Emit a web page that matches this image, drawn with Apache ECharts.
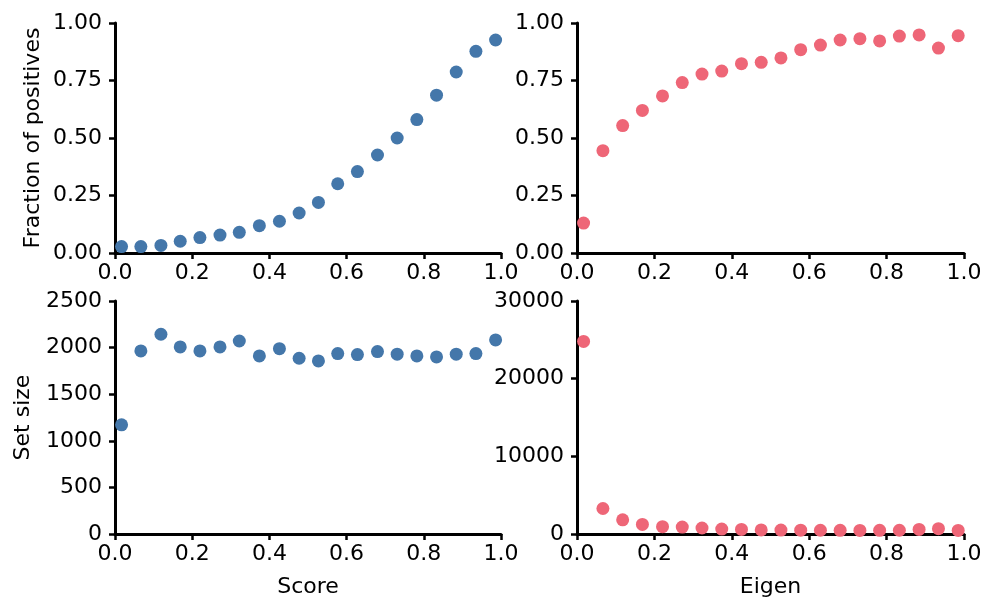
<!DOCTYPE html>
<html>
<head>
<meta charset="utf-8">
<script src="https://cdn.jsdelivr.net/npm/echarts@6/dist/echarts.min.js"></script>
<style>html,body{margin:0;padding:0;background:#fff;}#c{width:996px;height:614px;}</style>
</head>
<body>
<div id="c"></div>
<script>
const scoreX = [0.017,0.067,0.119,0.169,0.220,0.272,0.322,0.374,0.426,0.477,0.527,0.577,0.628,0.680,0.731,0.782,0.833,0.884,0.935,0.986];
const scoreFrac = [0.028,0.028,0.033,0.051,0.067,0.078,0.090,0.119,0.138,0.174,0.220,0.301,0.354,0.426,0.500,0.580,0.686,0.787,0.877,0.926];
const scoreSize = [1171,1964,2143,2007,1964,2007,2071,1911,1989,1886,1857,1936,1925,1957,1929,1911,1900,1929,1936,2082];
const eigenX = [0.017,0.067,0.118,0.169,0.221,0.272,0.323,0.374,0.425,0.476,0.527,0.578,0.629,0.680,0.731,0.782,0.833,0.884,0.934,0.985];
const eigenFrac = [0.130,0.445,0.554,0.620,0.683,0.741,0.778,0.791,0.823,0.829,0.848,0.884,0.904,0.926,0.932,0.922,0.943,0.948,0.891,0.945];
const eigenSize = [24800,3280,1830,1230,940,890,770,640,590,520,500,490,480,470,460,470,480,590,680,460];

const blue = '#4477AA', pink = '#EE6677';
const font = 'DejaVu Sans';
const fs = 22;

function xAxis(idx, name) {
  return {
    type: 'value', gridIndex: idx, min: 0, max: 1, interval: 0.2,
    name: name, nameLocation: 'middle', nameGap: 42,
    nameTextStyle: {color: '#000', fontFamily: font, fontSize: fs},
    axisLine: {onZero: false, lineStyle: {color: '#000', width: 3}},
    axisTick: {show: true, length: 6, lineStyle: {color: '#000', width: 2.5}},
    axisLabel: {color: '#000', fontFamily: font, fontSize: fs, margin: 9,
      formatter: v => v.toFixed(1), showMinLabel: true, showMaxLabel: true},
    splitLine: {show: false}
  };
}
function yAxis(idx, min, max, interval, dec, name, gap) {
  return {
    type: 'value', gridIndex: idx, min: min, max: max, interval: interval,
    name: name, nameLocation: 'middle', nameGap: gap,
    nameTextStyle: {color: '#000', fontFamily: font, fontSize: fs},
    axisLine: {show: true, lineStyle: {color: '#000', width: 3}},
    axisTick: {show: true, length: 6, lineStyle: {color: '#000', width: 2.5}},
    axisLabel: {color: '#000', fontFamily: font, fontSize: fs, margin: 13,
      formatter: v => v.toFixed(dec), showMinLabel: true, showMaxLabel: true},
    splitLine: {show: false}
  };
}
function pairs(xs, ys) { return xs.map((x, i) => [x, ys[i]]); }

const chart = echarts.init(document.getElementById('c'), null, {renderer: 'canvas'});
chart.setOption({
  backgroundColor: '#fff',
  animation: false,
  grid: [
    {left: 115, top: 23, width: 386, height: 230},
    {left: 577, top: 23, width: 387, height: 230},
    {left: 115, top: 301, width: 386, height: 233},
    {left: 577, top: 301, width: 387, height: 233}
  ],
  xAxis: [xAxis(0, ''), xAxis(1, ''), xAxis(2, 'Score'), xAxis(3, 'Eigen')],
  yAxis: [
    yAxis(0, 0, 1, 0.25, 2, 'Fraction of positives', 71),
    yAxis(1, 0, 1, 0.25, 2, '', 0),
    yAxis(2, 0, 2500, 500, 0, 'Set size', 81),
    yAxis(3, 0, 30000, 10000, 0, '', 0)
  ],
  series: [
    {type: 'scatter', xAxisIndex: 0, yAxisIndex: 0, data: pairs(scoreX, scoreFrac), symbolSize: 13, itemStyle: {color: blue, opacity: 1}},
    {type: 'scatter', xAxisIndex: 1, yAxisIndex: 1, data: pairs(eigenX, eigenFrac), symbolSize: 13, itemStyle: {color: pink, opacity: 1}},
    {type: 'scatter', xAxisIndex: 2, yAxisIndex: 2, data: pairs(scoreX, scoreSize), symbolSize: 13, itemStyle: {color: blue, opacity: 1}},
    {type: 'scatter', xAxisIndex: 3, yAxisIndex: 3, data: pairs(eigenX, eigenSize), symbolSize: 13, itemStyle: {color: pink, opacity: 1}}
  ]
});
</script>
</body>
</html>
